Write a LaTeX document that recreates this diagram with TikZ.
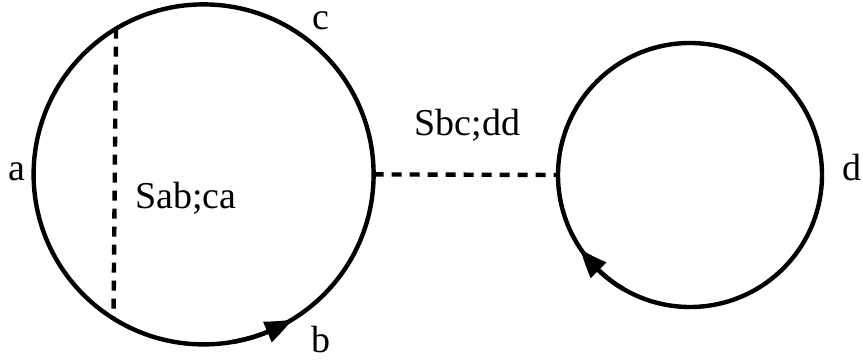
\documentclass[tikz,border=0pt]{standalone}
\usepackage{fontspec}
\setmainfont{Liberation Serif}
\usetikzlibrary{arrows.meta,bending}

\begin{document}
\begin{tikzpicture}[
      ring/.style={draw, circle, line width=0.11cm, outer sep=0pt, inner sep=0pt},
      link/.style={line width=0.11cm, dash pattern=on 0.25cm off 0.2cm},
      flow/.style={line width=0.11cm, -{Triangle[length=20pt, width=15pt, bend]}},
      lbl/.style={anchor=base, inner sep=0pt, font=\fontsize{27}{30}\selectfont}
    ]
    \useasboundingbox (0,0) rectangle (21.575,9);

    % Circles
    \node[ring, minimum size=8.5cm] (left) at (5.09,4.64) {};
    \node[ring, minimum size=6.6cm] (right) at (17.25,4.625) {};

    % Dashed lines
    \draw[link] (left.121.8) -- (left.238.2);
    \draw[link] (left.east) -- (right.west);

    % Arrows on the circles
    \draw[flow] (left.280) arc[start angle=280, end angle=301.5, radius=4.25cm];
    \draw[flow] (right.240) arc[start angle=240, end angle=214, radius=3.3cm];

    % Labels
    \node[lbl] (la) at (0.43,4.5) {a};
    \node[lbl] (lb) at (8.03,0.2) {b};
    \node[lbl] (lc) at (8.03,8.25) {c};
    \node[lbl] (ld) at (21.3,4.5) {d};
    \node[lbl] (sab) at (4.65,3.8) {Sab;ca};
    \node[lbl] (sbc) at (11.69,5.625) {Sbc;dd};
  \end{tikzpicture}
\end{document}
